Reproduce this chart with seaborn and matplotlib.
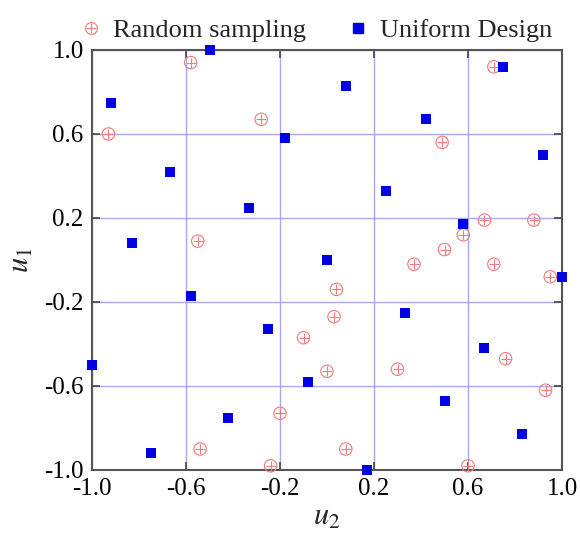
import matplotlib
matplotlib.use("Agg")
import matplotlib.pyplot as plt
import seaborn as sns
import pandas as pd
from matplotlib.lines import Line2D
from matplotlib.legend_handler import HandlerTuple

# Uniform design points (u2, u1)
ud_u2 = [-0.50, -0.92, 0.08, 0.75, 0.42, -0.18, 0.92, -0.67, 0.25, -0.33, 0.58, -0.83, 0.00,
         1.00, -0.58, 0.33, -0.25, -1.00, 0.67, -0.08, 0.50, -0.42, 0.83, -0.75, 0.17]
ud_u1 = [1.00, 0.75, 0.83, 0.92, 0.67, 0.58, 0.50, 0.42, 0.33, 0.25, 0.17, 0.08, 0.00,
         -0.08, -0.17, -0.25, -0.33, -0.50, -0.42, -0.58, -0.67, -0.75, -0.83, -0.92, -1.00]

# Random sampling points (u2, u1)
rs_u2 = [-0.58, -0.28, -0.93, 0.71, 0.49, 0.67, 0.88, 0.58, 0.50, -0.55, 0.37, 0.71, 0.95,
         0.04, 0.03, -0.10, 0.00, 0.30, 0.76, 0.93, -0.20, 0.08, -0.54, -0.24, 0.60]
rs_u1 = [0.94, 0.67, 0.60, 0.92, 0.56, 0.19, 0.19, 0.12, 0.05, 0.09, -0.02, -0.02, -0.08,
         -0.14, -0.27, -0.37, -0.53, -0.52, -0.47, -0.62, -0.73, -0.90, -0.90, -0.98, -0.98]

ticks = [-1.0, -0.6, -0.2, 0.2, 0.6, 1.0]
tick_labels = ["-1.0", "-0.6", "-0.2", "0.2", "0.6", "1.0"]

sns.set_style("ticks")
plt.rcParams['font.family'] = ['Liberation Serif', 'DejaVu Serif']
plt.rcParams['mathtext.fontset'] = 'stix'

red = '#ef7b7b'
blue = '#0000e6'

fig = plt.figure(figsize=(5.8, 5.37), dpi=100)
ax = fig.add_axes([92/580, 1-470/537, 470/580, 420/537])

rs = pd.DataFrame({"u2": rs_u2, "u1": rs_u1})
ud = pd.DataFrame({"u2": ud_u2, "u1": ud_u1})

sns.scatterplot(data=rs, x="u2", y="u1", ax=ax, marker='o', s=80,
                facecolors='none', edgecolor=red, linewidth=0.8, clip_on=False, zorder=3)
sns.scatterplot(data=rs, x="u2", y="u1", ax=ax, marker='+', s=45,
                color=red, linewidth=0.8, clip_on=False, zorder=3)
sns.scatterplot(data=ud, x="u2", y="u1", ax=ax, marker='s', s=55,
                color=blue, edgecolor=blue, linewidth=0, clip_on=False, zorder=4)

ax.set_xlim(-1, 1)
ax.set_ylim(-1, 1)
ax.set_xticks(ticks)
ax.set_xticklabels(tick_labels)
ax.set_yticks(ticks)
ax.set_yticklabels(tick_labels)
ax.grid(True, color='#a8a8f0', linewidth=1.0)
ax.set_axisbelow(True)
ax.tick_params(direction='in', length=6, width=1.2, top=True, right=True,
               labelsize=18, colors='#444444', labelcolor='black', pad=6)
for sp in ax.spines.values():
    sp.set_visible(True)
    sp.set_color('#555555')
    sp.set_linewidth(1.5)

ax.set_xlabel(r"$u_2$", fontsize=22, labelpad=2)
ax.set_ylabel(r"$u_1$", fontsize=22, labelpad=6)

h_rs = (Line2D([], [], marker='o', linestyle='none', markersize=8.5, markerfacecolor='none',
               markeredgecolor=red, markeredgewidth=0.8),
        Line2D([], [], marker='+', linestyle='none', markersize=6.5, color=red, markeredgewidth=0.8))
h_ud = Line2D([], [], marker='s', linestyle='none', markersize=7, color=blue)
fig.legend([h_rs, h_ud], ["Random sampling", "Uniform Design"],
           handler_map={tuple: HandlerTuple(ndivide=1, pad=0)},
           loc='upper left', bbox_to_anchor=(54/580, 1.01), ncol=2, frameon=False,
           fontsize=19, handlelength=1.0, handletextpad=0.35, columnspacing=1.45)

fig.savefig("out.png", dpi=100)
